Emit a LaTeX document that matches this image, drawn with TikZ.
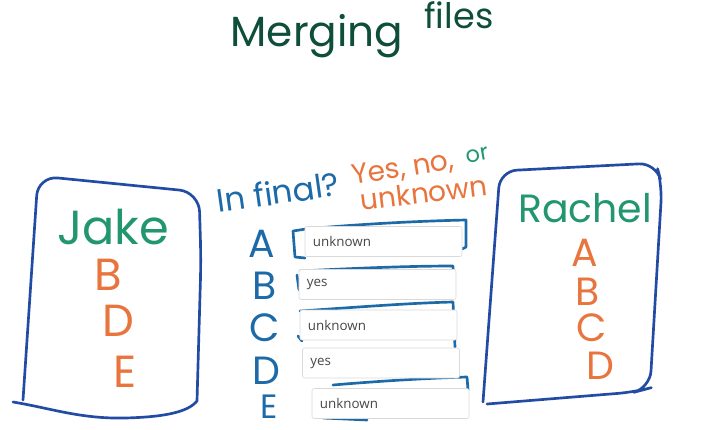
\documentclass[tikz,border=0pt]{standalone}
\usepackage{fontspec}
\setmainfont{Poppins}
\newfontfamily\entryfont{Open Sans}
\usetikzlibrary{positioning}
\definecolor{titlegreen}{RGB}{14,78,58}
\definecolor{namegreen}{RGB}{34,150,110}
\definecolor{handorange}{RGB}{232,116,62}
\definecolor{handblue}{RGB}{28,106,168}
\definecolor{outlineblue}{RGB}{34,76,164}
\definecolor{entrytext}{RGB}{70,70,70}

\begin{document}
\begin{tikzpicture}[x=0.025cm,y=-0.025cm,
    personbox/.style={draw=outlineblue, line width=1.9pt, line cap=round, line join=round},
    bracket/.style={draw=handblue, line width=1.9pt, line cap=round, line join=round},
    namelabel/.style={text=namegreen, font=\fontsize{31}{34}\selectfont, inner sep=0pt},
    fileletter/.style={text=handorange, font=\fontsize{32}{34}\selectfont, inner sep=0pt},
    rowletter/.style={text=handblue, font=\fontsize{28}{30}\selectfont, inner sep=0pt},
    entry/.style={draw=black!15, fill=white, rounded corners=1.5pt, minimum width=3.925cm,
        minimum height=0.75cm, text width=3.525cm, inner xsep=0.2cm, align=left,
        text=entrytext, font=\entryfont\fontsize{9.5}{11}\selectfont}]
    \useasboundingbox (0,0) rectangle (701,429);

    % Title
    \node[text=titlegreen, font=\fontsize{30}{34}\selectfont, inner sep=0pt] (title) at (362,30)
        {Merging\hspace{0.5em}\raisebox{13pt}{\fontsize{25}{28}\selectfont files}};

    % Jake's side
    \draw[personbox] (13,402) .. controls (50,408) and (80,419) .. (125,418)
        .. controls (165,417) and (188,412) .. (197,401)
        [rounded corners=14] -- (201,260) -- (199,192) -- (38,176) -- (23,400);
    \node[namelabel, font=\fontsize{34}{36}\selectfont] (jake) at (113,227) {Jake};
    \node[fileletter] (jakeB) at (108,275) {B};
    \node[fileletter] (jakeD) at (118,321) {D};
    \node[fileletter] (jakeE) at (125,372) {E};

    % Rachel's side
    \draw[personbox, rounded corners=12] (483,402) -- (500,171) -- (656,163) -- (662,185)
        -- (650,388) -- (635,392) -- (487,404);
    \node[namelabel, font=\fontsize{28}{30}\selectfont] (rachel) at (585,208) {Rachel};
    \node[fileletter, font=\fontsize{28}{30}\selectfont] (rachelA) at (585,253) {A};
    \node[fileletter, font=\fontsize{28}{30}\selectfont] (rachelB) at (588,292) {B};
    \node[fileletter, font=\fontsize{28}{30}\selectfont] (rachelC) at (592,328) {C};
    \node[fileletter, font=\fontsize{28}{30}\selectfont] (rachelD) at (600,366) {D};

    % Question
    \node[text=handblue, font=\fontsize{23}{25}\selectfont, rotate=8, inner sep=0pt] (question) at (278,192) {In final?};
    \node[text=handorange, font=\fontsize{20}{22}\selectfont, rotate=9, inner sep=0pt] (yesno) at (403,169) {Yes, no,};
    \node[text=namegreen, font=\fontsize{16}{18}\selectfont, rotate=10, inner sep=0pt] (or) at (477,155) {or};
    \node[text=handorange, font=\fontsize{20}{22}\selectfont, rotate=7, inner sep=0pt] (unknownnote) at (424,193) {unknown};

    % Row letters
    \node[rowletter] (rowA) at (262,244) {A};
    \node[rowletter] (rowB) at (265,286) {B};
    \node[rowletter] (rowC) at (265,328) {C};
    \node[rowletter] (rowD) at (266,371) {D};
    \node[rowletter, font=\fontsize{24}{26}\selectfont] (rowE) at (269,407) {E};

    % Pen strokes behind the answer fields
    \draw[bracket] (305,258) -- (295,257) -- (293,231) -- (306,229)
        .. controls (360,224) and (420,221) .. (466,220) -- (466,247) -- (462,249);
    \draw[bracket] (300,271) .. controls (360,268) and (410,266) .. (453,266) -- (454,293);
    \draw[bracket] (297,275) -- (299,290);
    \draw[bracket] (300,311) .. controls (360,307) and (410,303) .. (453,302) -- (455,347);
    \draw[bracket] (298,336) -- (302,341);
    \draw[bracket] (333,385) .. controls (380,381) and (430,378) .. (467,377) -- (468,390);
    \draw[bracket] (323,418) -- (367,420);

    % Answer fields
    \node[entry] (ansA) at (383.5,241.5) {unknown};
    \node[entry] (ansB) at (377.5,284.5) {yes};
    \node[entry] (ansC) at (378.5,325) {unknown};
    \node[entry] (ansD) at (381,363) {yes};
    \node[entry] (ansE) at (390.5,403.5) {unknown};
\end{tikzpicture}
\end{document}
